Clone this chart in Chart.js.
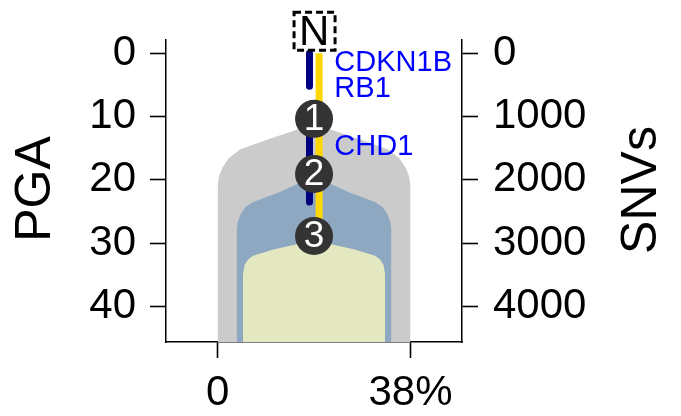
<!DOCTYPE html>
<html>
<head>
<meta charset="utf-8">
<script src="https://cdn.jsdelivr.net/npm/chart.js@4.4.1/dist/chart.umd.min.js"></script>
<style>
    body { margin: 0; background: #fff; }
    #tree-chart { display: block; }
</style>
</head>
<body>
<canvas id="tree-chart" width="681" height="416"></canvas>
<script>
// Axis ranges and ticks
const xRange = [-10.16, 48.14];
const xTicks = [0, 38];
const xTickLabels = ['0', '38%'];
const pgaRange = [-2.07, 45.64];
const pgaTicks = [0, 10, 20, 30, 40];
const snvTicks = [0, 1000, 2000, 3000, 4000];
const snvPerPga = 100;

// Clone shapes (x = cell fraction %, y = PGA)
const grayX = [0, 0, 0.3, 1.0, 2.2, 4.4, 10, 15.6, 19, 22.4, 28, 33.6, 35.8, 37, 37.7, 38, 38];
const grayY = [45.64, 21, 19.4, 18, 16.6, 15.2, 13.6, 12.1, 11.2, 12.1, 13.6, 15.2, 16.6, 18, 19.4, 21, 45.64];
const blueX = [3.75, 3.75, 3.95, 4.5, 5.5, 7, 12, 15.6, 19, 22.4, 26, 31, 32.5, 33.5, 34.05, 34.25, 34.25];
const blueY = [45.64, 28, 26.8, 25.5, 24.3, 23.5, 22, 20.7, 19.7, 20.7, 22, 23.5, 24.3, 25.5, 26.8, 28, 45.64];
const lightX = [5, 5, 5.3, 6, 7, 11, 15.6, 19, 22.4, 27, 31, 32, 32.7, 33, 33];
const lightY = [45.64, 35, 33.5, 32.6, 32, 31, 30.2, 29.7, 30.2, 31, 32, 32.6, 33.5, 35, 45.64];

// Branch lines
const navyX = 18.1;
const navyTop = [0, 5.2];
const navyMid = [10.4, 23.5];
const goldX = 20.0;
const goldSpan = [0, 28.9];

// Nodes and gene labels
const nodeLabels = ['1', '2', '3'];
const nodeX = [19, 19, 19];
const nodePGA = [10.36, 19.07, 28.88];
const rootLabel = 'N';
const rootPos = [19, -3.5];
const genes = ['CDKN1B', 'RB1', 'CHD1'];
const geneX = [23, 23, 23];
const genePGA = [1.5, 5.6, 14.75];

const FONT = "'Liberation Sans', Arial, sans-serif";

function toPoints(xs, ys) {
    return xs.map((x, i) => ({ x: x, y: ys[i] }));
}

function shapeDataset(xs, ys, color, order) {
    return {
        data: toPoints(xs, ys),
        showLine: true,
        borderWidth: 0,
        borderColor: color,
        backgroundColor: color,
        pointRadius: 0,
        fill: { value: pgaRange[1] },
        tension: 0,
        order: order
    };
}

function lineDataset(x, span, color, cap, order) {
    return {
        data: [{ x: x, y: span[0] }, { x: x, y: span[1] }],
        showLine: true,
        borderWidth: 7,
        borderColor: color,
        borderCapStyle: cap,
        pointRadius: 0,
        fill: false,
        order: order
    };
}

// Text overlays: node numbers, gene names, root box, axis titles
const overlayPlugin = {
    id: 'overlay',
    afterDatasetsDraw(chart) {
        const ctx = chart.ctx;
        const xs = chart.scales.x;
        const ys = chart.scales.y;
        ctx.save();

        ctx.fillStyle = '#ffffff';
        ctx.font = `37px ${FONT}`;
        ctx.textAlign = 'center';
        ctx.textBaseline = 'middle';
        nodeLabels.forEach((label, i) => {
            ctx.fillText(label, xs.getPixelForValue(nodeX[i]), ys.getPixelForValue(nodePGA[i]) + 1);
        });

        ctx.fillStyle = '#0000ff';
        ctx.font = `29px ${FONT}`;
        ctx.textAlign = 'left';
        genes.forEach((gene, i) => {
            ctx.fillText(gene, xs.getPixelForValue(geneX[i]), ys.getPixelForValue(genePGA[i]));
        });

        // Root node in a dashed box
        const rx = xs.getPixelForValue(rootPos[0]);
        const ry = ys.getPixelForValue(rootPos[1]);
        ctx.fillStyle = '#000';
        ctx.font = `42px ${FONT}`;
        ctx.textAlign = 'center';
        ctx.fillText(rootLabel, rx, ry + 2);
        ctx.strokeStyle = '#000';
        ctx.lineWidth = 3;
        ctx.setLineDash([7, 4]);
        ctx.strokeRect(rx - 20, ry - 19, 41, 38);
        ctx.setLineDash([]);

        // Axis titles, both reading bottom to top
        ctx.font = `50px ${FONT}`;
        [['PGA', 36, 189], ['SNVs', 642, 190]].forEach(([text, tx, ty]) => {
            ctx.save();
            ctx.translate(tx, ty);
            ctx.rotate(-Math.PI / 2);
            ctx.fillText(text, 0, 0);
            ctx.restore();
        });

        ctx.restore();
    }
};

const tickFont = { family: FONT, size: 42 };
const gridStyle = { drawOnChartArea: false, tickLength: 16, tickWidth: 1.6, tickColor: '#000' };
const borderStyle = { color: '#000', width: 1.5 };

new Chart(document.getElementById('tree-chart').getContext('2d'), {
    type: 'scatter',
    data: {
        datasets: [
            {
                data: toPoints(nodeX, nodePGA),
                pointRadius: 19,
                pointBackgroundColor: '#333333',
                pointBorderWidth: 0,
                order: 0
            },
            lineDataset(navyX, navyTop, '#00007f', 'round', 1),
            lineDataset(navyX, navyMid, '#00007f', 'round', 1),
            lineDataset(goldX, goldSpan, '#ffd700', 'butt', 2),
            shapeDataset(lightX, lightY, '#e4e8c0', 3),
            shapeDataset(blueX, blueY, '#8fa8c2', 4),
            shapeDataset(grayX, grayY, '#cbcbcb', 5)
        ]
    },
    options: {
        responsive: false,
        devicePixelRatio: 1,
        animation: false,
        events: [],
        layout: { padding: { top: 36, left: 0, right: 0, bottom: 0 } },
        plugins: {
            legend: { display: false },
            tooltip: { enabled: false }
        },
        scales: {
            x: {
                type: 'linear',
                position: 'bottom',
                min: xRange[0],
                max: xRange[1],
                afterBuildTicks: scale => { scale.ticks = xTicks.map(v => ({ value: v })); },
                afterFit: scale => { scale.height = 74; },
                ticks: {
                    font: tickFont,
                    color: '#000',
                    padding: 10,
                    maxRotation: 0,
                    callback: value => xTickLabels[xTicks.indexOf(value)]
                },
                grid: gridStyle,
                border: borderStyle
            },
            y: {
                type: 'linear',
                position: 'left',
                reverse: true,
                min: pgaRange[0],
                max: pgaRange[1],
                afterBuildTicks: scale => { scale.ticks = pgaTicks.map(v => ({ value: v })); },
                afterFit: scale => { scale.width = 166; },
                ticks: { font: tickFont, color: '#000', padding: 14, callback: value => String(value) },
                grid: gridStyle,
                border: borderStyle
            },
            y2: {
                type: 'linear',
                position: 'right',
                reverse: true,
                min: pgaRange[0] * snvPerPga,
                max: pgaRange[1] * snvPerPga,
                afterBuildTicks: scale => { scale.ticks = snvTicks.map(v => ({ value: v })); },
                afterFit: scale => { scale.width = 219; },
                ticks: { font: tickFont, color: '#000', padding: 15, callback: value => String(value) },
                grid: gridStyle,
                border: borderStyle
            }
        }
    },
    plugins: [overlayPlugin]
});
</script>
</body>
</html>
